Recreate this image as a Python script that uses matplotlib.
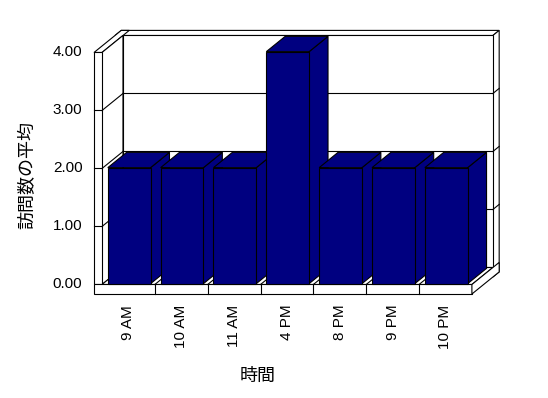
import matplotlib.pyplot as plt
from matplotlib.patches import Polygon

plt.rcParams['font.family'] = ['Liberation Sans', 'Noto Sans CJK JP']

# data
hours = ['9 AM', '10 AM', '11 AM', '4 PM', '8 PM', '9 PM', '10 PM']
avg_visits = [2.0, 2.0, 2.0, 4.0, 2.0, 2.0, 2.0]
y_ticks = [0, 1, 2, 3, 4]
x_title = '時間'
y_title = '訪問数の平均'

navy = '#000080'
lw = 0.8

# fake 3d: depth z moves things up and to the right
DX, DY = 0.397, 0.293
TX, TY = 0.151, 0.164   # wall / floor thickness
ZOUT = 1.3
n = len(hours)
ymax = y_ticks[-1]


def P(x, y, z):
    return (x + z * DX, y + z * DY)


def face(ax, pts, fc='white', zorder=1):
    ax.add_patch(Polygon([P(*p) for p in pts], closed=True, facecolor=fc,
                         edgecolor='black', linewidth=lw, joinstyle='miter',
                         zorder=zorder))


def line(ax, a, b):
    pa, pb = P(*a), P(*b)
    ax.plot([pa[0], pb[0]], [pa[1], pb[1]], color='black', linewidth=lw,
            zorder=1.5)


fig = plt.figure(figsize=(5.48, 3.98), dpi=100)
ax = fig.add_axes([0, 0, 1, 1])
ax.set_xlim(-1.93, 8.44)
ax.set_ylim(-1.957, 4.905)
ax.axis('off')

# back wall
face(ax, [(-TX, ymax, 1), (n, ymax, 1), (n, ymax, ZOUT), (-TX, ymax, ZOUT)])
face(ax, [(n, -TY, 1), (n, ymax, 1), (n, ymax, ZOUT), (n, -TY, ZOUT)])
face(ax, [(0, 0, 1), (n, 0, 1), (n, ymax, 1), (0, ymax, 1)])
# left wall
face(ax, [(-TX, ymax, 0), (0, ymax, 0), (0, ymax, ZOUT), (-TX, ymax, ZOUT)])
face(ax, [(0, 0, 0), (0, 0, 1), (0, ymax, 1), (0, ymax, 0)])
face(ax, [(-TX, 0, 0), (0, 0, 0), (0, ymax, 0), (-TX, ymax, 0)])
# floor
face(ax, [(0, 0, 0), (n, 0, 0), (n, 0, 1), (0, 0, 1)])
face(ax, [(-TX, -TY, 0), (n, -TY, 0), (n, 0, 0), (-TX, 0, 0)])
face(ax, [(n, -TY, 0), (n, 0, 0), (n, 0, ZOUT), (n, -TY, ZOUT)])

# gridlines
for v in y_ticks[1:-1]:
    line(ax, (-TX, v, 0), (0, v, 0))
    line(ax, (0, v, 0), (0, v, 1))
    line(ax, (0, v, 1), (n, v, 1))
    line(ax, (n, v, 1), (n, v, ZOUT))
for i in range(1, n):
    line(ax, (i, -TY, 0), (i, 0, 0))
    line(ax, (i, 0, 0), (i, 0, 1))

# bars, drawn left to right so each one hides the side of the previous
z0, z1 = 0.05, 0.95
for i, v in enumerate(avg_visits):
    x0, x1 = i + 0.09, i + 0.90
    zb = 3 + i
    face(ax, [(x1, 0, z0), (x1, 0, z1), (x1, v, z1), (x1, v, z0)], navy, zb)
    face(ax, [(x0, v, z0), (x1, v, z0), (x1, v, z1), (x0, v, z1)], navy, zb)
    face(ax, [(x0, 0, z0), (x1, 0, z0), (x1, v, z0), (x0, v, z0)], navy, zb)

# labels
for v in y_ticks:
    ax.text(-0.37, v, f'{v:.2f}', ha='right', va='center', fontsize=11)
for i, h in enumerate(hours):
    ax.text(i + 0.5, -0.35, h, rotation=90, ha='center', va='top', fontsize=11)
ax.text(-1.40, 1.89, y_title, rotation=90, ha='center', va='center', fontsize=13)
ax.text(2.95, -1.58, x_title, ha='center', va='center', fontsize=13)

fig.savefig('out.png', dpi=100)
